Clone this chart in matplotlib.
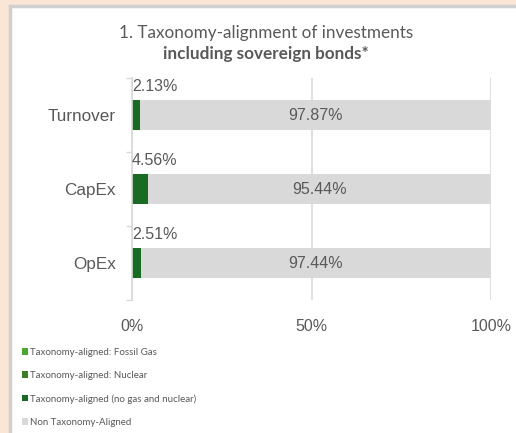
import matplotlib.pyplot as plt
from matplotlib.patches import Rectangle

plt.rcParams['font.family'] = ['Lato', 'DejaVu Sans']

categories = ['Turnover', 'CapEx', 'OpEx']
fossil_gas = [0.0, 0.0, 0.0]
nuclear = [0.0, 0.0, 0.0]
aligned = [2.13, 4.56, 2.51]
non_aligned = [97.87, 95.44, 97.44]
xticks = [0, 50, 100]
xtick_labels = ['0%', '50%', '100%']
legend_labels = ['Taxonomy-aligned: Fossil Gas', 'Taxonomy-aligned: Nuclear',
                 'Taxonomy-aligned (no gas and nuclear)', 'Non Taxonomy-Aligned']
colors = ['#4EA72E', '#3A7D22', '#196B24', '#D9D9D9']
text_col = '#595959'

fig = plt.figure(figsize=(5.16, 4.33), dpi=100)
fig.patch.set_facecolor('#FBE5D6')
# white panel with grey border
fig.patches.append(Rectangle((9.5 / 516, -0.1), 1.1, 1 - 5.5 / 433 + 0.1, transform=fig.transFigure,
                             facecolor='white', edgecolor='#D0D0D0', linewidth=2.5, zorder=-1))

ax = fig.add_axes([132 / 516, 1 - 300 / 433, (491 - 132) / 516, (300 - 78) / 433])
ax.set_facecolor('none')

y = range(len(categories))
h = 0.4
left = [0.0] * len(categories)
for vals, c, lab in zip([fossil_gas, nuclear, aligned, non_aligned], colors, legend_labels):
    ax.barh(y, vals, left=left, height=h, color=c, label=lab, zorder=2)
    left = [l + v for l, v in zip(left, vals)]

for i in y:
    ax.text(0, i - 0.39, f'{aligned[i]:.2f}%', ha='left', va='center', fontsize=11.5,
            color=text_col, family=['Liberation Sans', 'DejaVu Sans'])
    ax.text(aligned[i] + non_aligned[i] / 2, i, f'{non_aligned[i]:.2f}%', ha='center', va='center',
            fontsize=11.5, color=text_col, family=['Liberation Sans', 'DejaVu Sans'])

ax.set_xlim(0, 100)
ax.set_ylim(2.5, -0.5)
ax.set_xticks(xticks)
ax.set_xticklabels(xtick_labels, family=['Liberation Sans', 'DejaVu Sans'])
ax.set_yticks(list(y))
ax.set_yticklabels(categories, family=['Liberation Sans', 'DejaVu Sans'])
ax.set_yticks([-0.5, 0.5, 1.5, 2.5], minor=True)
ax.tick_params(axis='x', length=0, pad=14, labelsize=11.5, labelcolor=text_col)
ax.tick_params(axis='y', which='major', length=0, pad=11.5, labelsize=12.3, labelcolor=text_col)
ax.tick_params(axis='y', which='minor', length=4, color='#D9D9D9', width=1)
ax.grid(axis='x', color='#D9D9D9', linewidth=1.2, zorder=0)
for s in ['top', 'right', 'bottom']:
    ax.spines[s].set_visible(False)
ax.spines['left'].set_color('#D9D9D9')
ax.spines['left'].set_linewidth(1.2)

fig.text(266 / 516, 1 - 33 / 433, '1. Taxonomy-alignment of investments', ha='center', va='center',
         fontsize=12.3, color=text_col)
fig.text(266 / 516, 1 - 54 / 433, 'including sovereign bonds*', ha='center', va='center',
         fontsize=12.3, color=text_col, fontweight='bold')

handles, labels = ax.get_legend_handles_labels()
fig.legend(handles, labels, loc='upper left', bbox_to_anchor=(18 / 516, 1 - 344 / 433),
           frameon=False, fontsize=7, labelcolor=text_col, handlelength=0.65, handleheight=0.65,
           handletextpad=0.2, labelspacing=1.45, borderaxespad=0)

fig.savefig('out.png', dpi=100, facecolor=fig.get_facecolor())
